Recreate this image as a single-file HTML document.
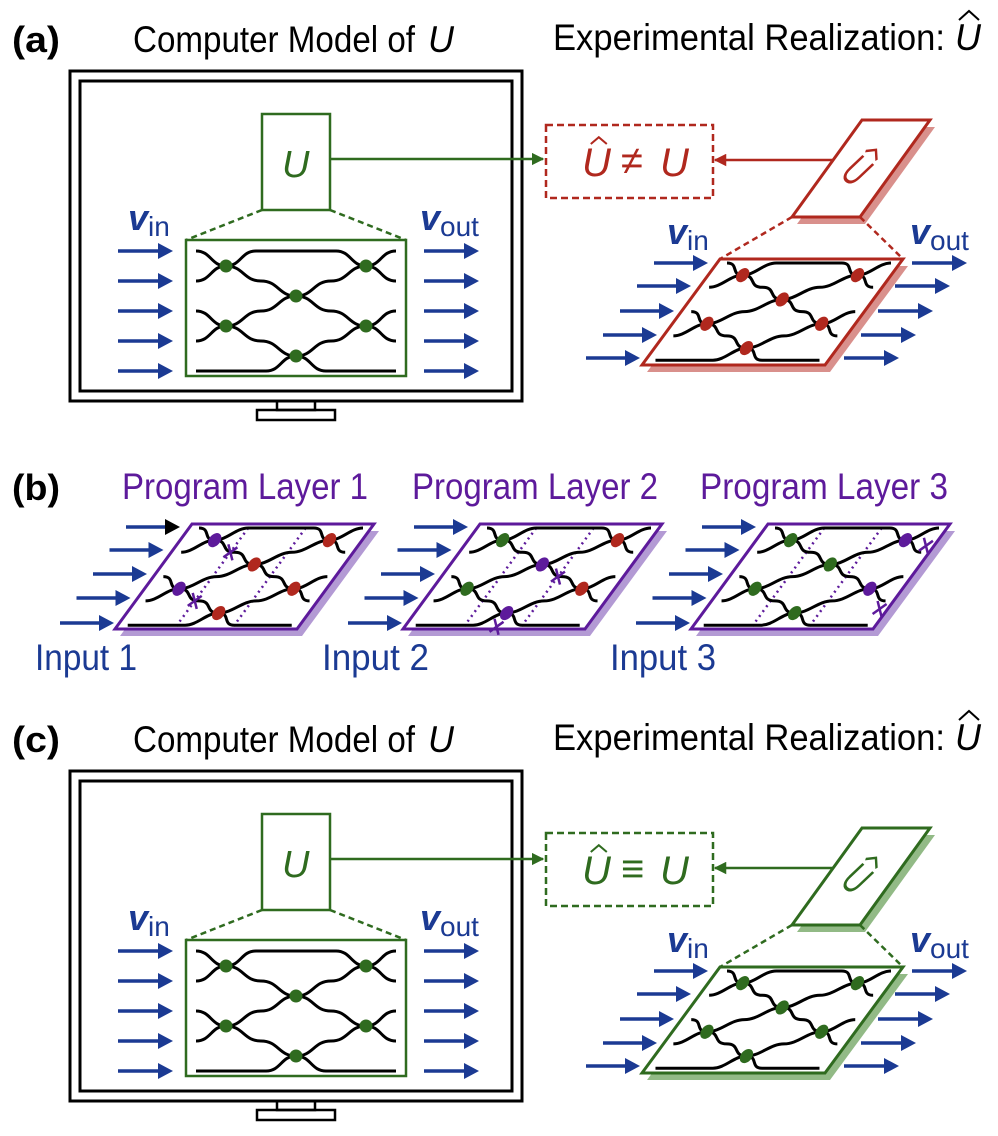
<!DOCTYPE html>
<html><head><meta charset="utf-8"><style>
html,body{margin:0;padding:0;background:#fff;}
svg{display:block;font-family:"Liberation Sans",sans-serif;}
</style></head><body>
<svg id="fig" width="998" height="1136" viewBox="0 0 998 1136" xmlns="http://www.w3.org/2000/svg">
<rect x="0" y="0" width="998" height="1136" fill="#fff"/>
<defs>
<marker id="ag" viewBox="0 0 10 10" refX="9" refY="5" markerWidth="5" markerHeight="5" orient="auto"><path d="M0,0L10,5L0,10z" fill="#2f6b1f"/></marker>
<marker id="ar" viewBox="0 0 10 10" refX="9" refY="5" markerWidth="5" markerHeight="5" orient="auto"><path d="M0,0L10,5L0,10z" fill="#b0281e"/></marker>
</defs>
<text x="12" y="52" font-size="36" font-weight="bold" textLength="48" lengthAdjust="spacingAndGlyphs">(a)</text>
<text x="133" y="52" font-size="37" textLength="282" lengthAdjust="spacingAndGlyphs">Computer Model of</text>
<text x="428" y="52" font-size="37" font-style="italic" textLength="26" lengthAdjust="spacingAndGlyphs">U</text>
<text x="553" y="50" font-size="37" textLength="392" lengthAdjust="spacingAndGlyphs">Experimental Realization:</text>
<text x="955" y="50" font-size="37" font-style="italic" textLength="26" lengthAdjust="spacingAndGlyphs">U</text>
<path d="M959,20 L969,11 L979,20" fill="none" stroke="#000" stroke-width="2"/>

<text x="12" y="500" font-size="36" font-weight="bold" textLength="48" lengthAdjust="spacingAndGlyphs">(b)</text>
<text x="122" y="499" font-size="37" fill="#5d1a9b" textLength="246" lengthAdjust="spacingAndGlyphs">Program Layer 1</text>
<text x="412" y="499" font-size="37" fill="#5d1a9b" textLength="246" lengthAdjust="spacingAndGlyphs">Program Layer 2</text>
<text x="700" y="499" font-size="37" fill="#5d1a9b" textLength="248" lengthAdjust="spacingAndGlyphs">Program Layer 3</text>
<text x="35" y="670" font-size="37" fill="#1b3a93" textLength="102" lengthAdjust="spacingAndGlyphs">Input 1</text>
<text x="322" y="670" font-size="37" fill="#1b3a93" textLength="107" lengthAdjust="spacingAndGlyphs">Input 2</text>
<text x="610" y="670" font-size="37" fill="#1b3a93" textLength="106" lengthAdjust="spacingAndGlyphs">Input 3</text>

<text x="12" y="752" font-size="36" font-weight="bold" textLength="48" lengthAdjust="spacingAndGlyphs">(c)</text>
<text x="133" y="752" font-size="37" textLength="282" lengthAdjust="spacingAndGlyphs">Computer Model of</text>
<text x="428" y="752" font-size="37" font-style="italic" textLength="26" lengthAdjust="spacingAndGlyphs">U</text>
<text x="553" y="750" font-size="37" textLength="392" lengthAdjust="spacingAndGlyphs">Experimental Realization:</text>
<text x="955" y="750" font-size="37" font-style="italic" textLength="26" lengthAdjust="spacingAndGlyphs">U</text>
<path d="M959,720 L969,711 L979,720" fill="none" stroke="#000" stroke-width="2"/>
</svg>
<script>
const NS="http://www.w3.org/2000/svg";
const svg=document.getElementById('fig');
const BLUE="#1b3a93",GREEN="#2f6b1f",RED="#b0281e",PURPLE="#5d1a9b";
const WG=[
 [[0,0],[30,15],[60,0],[140,0],[170,15],[200,0]],
 [[0,30],[30,15],[65,30],[100,45],[135,30],[170,15],[200,30]],
 [[0,60],[30,75],[65,60],[100,45],[135,60],[170,75],[200,60]],
 [[0,90],[30,75],[65,90],[100,105],[135,90],[170,75],[200,90]],
 [[0,120],[70,120],[100,105],[130,120],[200,120]]
];
const NODES=[[30,15],[170,15],[100,45],[30,75],[170,75],[100,105]];
function el(tag,attrs,parent){const e=document.createElementNS(NS,tag);for(const k in attrs)e.setAttribute(k,attrs[k]);(parent||svg).appendChild(e);return e;}
function wgPath(p){let d="M"+p[0][0]+","+p[0][1];for(let i=1;i<p.length;i++){const [x0,y0]=p[i-1],[x1,y1]=p[i];const m=(x1-x0)/2;d+=" C"+(x0+m)+","+y0+" "+(x1-m)+","+y1+" "+x1+","+y1;}return d;}
function circuit(parent,M,colors,tilted){
 const [a,c,e,d,f]=M;
 const g=el('g',{transform:"matrix("+a+",0,"+c+","+d+","+e+","+f+")"},parent);
 
 
 WG.forEach(p=>{const w=el('path',{d:wgPath(p),fill:'none',stroke:'#000','stroke-width':3,'vector-effect':'non-scaling-stroke'},g);
  
  });
 NODES.forEach((n,i)=>{
  const x=e+a*n[0]+c*n[1], y=f+d*n[1];
  const at=tilted?{cx:x,cy:y,rx:8,ry:5.5,fill:colors[i],transform:"rotate(-50 "+x+" "+y+")"}:{cx:x,cy:y,rx:6.5,ry:6.5,fill:colors[i]};
  const nd=el('ellipse',at,parent);
  
  });
}
function arrow(x1,y,x2,color,head){
 const l=el('line',{x1:x1,y1:y,x2:x2-12,y2:y,stroke:color,'stroke-width':3.5});
 
 
 const h=el('polygon',{points:(x2-15)+","+(y-8)+" "+x2+","+y+" "+(x2-15)+","+(y+8),fill:head||color});
 
 
}
function vlabel(x,y,sub){
 const t=el('text',{x:x,y:y,'font-size':36,fill:BLUE});
 
 
 t.innerHTML='<tspan font-weight="bold" font-style="italic">v</tspan><tspan font-size="28" dy="6">'+sub+'</tspan>';
}
function hatU(x,y,size,color,parent){
 const t=el('text',{x:x,y:y,'font-size':size,'font-style':'italic',fill:color},parent);
 
 
 t.textContent='U';
 const hx=x+size*0.42;
 const h=el('path',{d:"M"+(hx-8)+","+(y-size*0.8)+" L"+hx+","+(y-size*0.97)+" L"+(hx+8)+","+(y-size*0.8),fill:'none',stroke:color,'stroke-width':2},parent);
 
 
}
function chip(x0,y0,w,h,shift,color,shadow,cols,parent){
 const pts=(dx,dy)=>[(x0+dx)+","+(y0+dy),(x0+w+dx)+","+(y0+dy),(x0+w-shift+dx)+","+(y0+h+dy),(x0-shift+dx)+","+(y0+h+dy)].join(" ");
 const s=el('polygon',{points:pts(5,7),fill:shadow},parent);
 
 
 const p=el('polygon',{points:pts(0,0),fill:'#fff',stroke:color,'stroke-width':3},parent);
 
 
 const c=-(shift/h)*0.81;
 if(cols) circuit(parent,[0.82,+c.toFixed(3),x0+7,0.81,y0+4],cols,true);
}
function monitorPanel(dy,good){
 const g=el('g',{transform:'translate(0,'+dy+')'});
 
 
 const a=(t,at,nm)=>{const e=el(t,at,g);return e;};
 a('rect',{x:70,y:71,width:452,height:330,fill:'none',stroke:'#000','stroke-width':3},'monitor-frame');
 a('rect',{x:80,y:81,width:432,height:310,fill:'none',stroke:'#000','stroke-width':3},'monitor-screen');
 a('rect',{x:277,y:401,width:38,height:9,fill:'none',stroke:'#000','stroke-width':2.5},'monitor-neck');
 a('rect',{x:257,y:410,width:78,height:10,fill:'none',stroke:'#000','stroke-width':2.5},'monitor-base');
 a('rect',{x:262,y:114,width:68,height:96,fill:'#fff',stroke:GREEN,'stroke-width':2.5},'u-box');
 const ut=a('text',{x:282,y:177,'font-size':38,'font-style':'italic',fill:GREEN},'u-box-label');ut.textContent='U';
 a('line',{x1:262,y1:210,x2:186,y2:240,stroke:GREEN,'stroke-width':2.5,'stroke-dasharray':'6,4'},'zoom-line-left');
 a('line',{x1:330,y1:210,x2:406,y2:240,stroke:GREEN,'stroke-width':2.5,'stroke-dasharray':'6,4'},'zoom-line-right');
 a('rect',{x:186,y:240,width:220,height:136,fill:'#fff',stroke:GREEN,'stroke-width':2.5},'circuit-box');
 circuit(g,[1,0,196,1,251],Array(6).fill(GREEN),false);
 a('line',{x1:330,y1:159,x2:543,y2:159,stroke:GREEN,'stroke-width':2.5,'marker-end':'url(#ag)'},'model-to-compare-arrow');
}
monitorPanel(0,false);
monitorPanel(700,true);
[0,700].forEach(dy=>{
 [251,281,311,341,371].forEach(y=>{arrow(118,y+dy,173,BLUE);arrow(424,y+dy,479,BLUE);});
 vlabel(128,230+dy,'in');vlabel(420,230+dy,'out');
});
function expPanel(dy,good){
 const col=good?GREEN:RED, sh=good?"#92ba86":"#d9908c";
 const g=el('g',{transform:'translate(0,'+dy+')'});
 
 
 const a=(t,at,nm)=>{const e=el(t,at,g);return e;};
 a('rect',{x:546,y:125,width:167,height:73,fill:'none',stroke:col,'stroke-width':2.5,'stroke-dasharray':'7,4'},'comparison-box');
 hatU(582,176,40,col,g);
 const rel=a('text',{x:621,y:174,'font-size':40,fill:col},'relation-symbol');rel.textContent=good?'≡':'≠';
 const u2=a('text',{x:660,y:176,'font-size':40,'font-style':'italic',fill:col},'u-text');u2.textContent='U';
 a('line',{x1:833,y1:160,x2:715,y2:160,stroke:col,'stroke-width':2.5,'marker-end':good?'url(#ag)':'url(#ar)'},'chip-to-compare-arrow');
 chip(862,120,68,97,70,col,sh,null,g);
 const ht=el('g',{transform:'translate(860,168) rotate(40) scale(0.9,1.5)'},g);
 
 
 hatU(-12,13,30,col,ht);
 a('line',{x1:792,y1:217,x2:720,y2:259,stroke:col,'stroke-width':2.5,'stroke-dasharray':'6,4'},'zoom-line-left');
 a('line',{x1:860,y1:217,x2:903,y2:259,stroke:col,'stroke-width':2.5,'stroke-dasharray':'6,4'},'zoom-line-right');
 chip(720,259,183,106,78,col,sh,Array(6).fill(col),g);
 [0,1,2,3,4].forEach(i=>{
  const y=[263,286,311,335,358][i]+dy;
  arrow(654-17*i,y,708-17*i,BLUE);
  arrow(912-17*i,y,967-17*i,BLUE);
 });
 vlabel(667,244+dy,'in');vlabel(910,244+dy,'out');
}
expPanel(0,false);
expPanel(708,true);
const LAYER_COLORS=[
 [PURPLE,RED,RED,PURPLE,RED,RED],
 [GREEN,RED,PURPLE,GREEN,RED,PURPLE],
 [GREEN,PURPLE,GREEN,GREEN,PURPLE,GREEN]
];
const CROSSES=[[[60,30],[60,90]],[[130,60],[100,122]],[[200,22],[200,100]]];
LAYER_COLORS.forEach((cols,k)=>{
 const x0=192+288*k,y0=524;
 chip(x0,y0,182,105,77,PURPLE,"#b39ad4",null);
 const c=-0.594;
 const tf="matrix(0.82,0,"+c+",0.81,"+(x0+7)+","+(y0+4)+")";
 const dg=el('g',{transform:tf});
 
 
 [60,130].forEach(x=>{const l=el('line',{x1:x,y1:0,x2:x,y2:121,stroke:PURPLE,'stroke-width':2.5,'stroke-dasharray':'2,4','vector-effect':'non-scaling-stroke'},dg);
  
  });
 circuit(svg,[0.82,c,x0+7,0.81,y0+4],cols,true);
 CROSSES[k].forEach(([x,y])=>{
  const cx=x0+7+0.82*x+c*y, cy=y0+4+0.81*y;
  const m=el('path',{d:"M"+(cx-7)+","+(cy+5)+" L"+(cx+7)+","+(cy-5)+" M"+(cx-2)+","+(cy-8)+" L"+(cx+2)+","+(cy+8),stroke:PURPLE,'stroke-width':2.5,fill:'none'});
  
  
 });
 [0,1,2,3,4].forEach(i=>{
  const end=x0-12-16.5*i;
  arrow(end-54,y0+[3,26,50,74,99][i],end,BLUE,(k===0&&i===0)?'#000':BLUE);
 });
});
</script>
</body></html>
